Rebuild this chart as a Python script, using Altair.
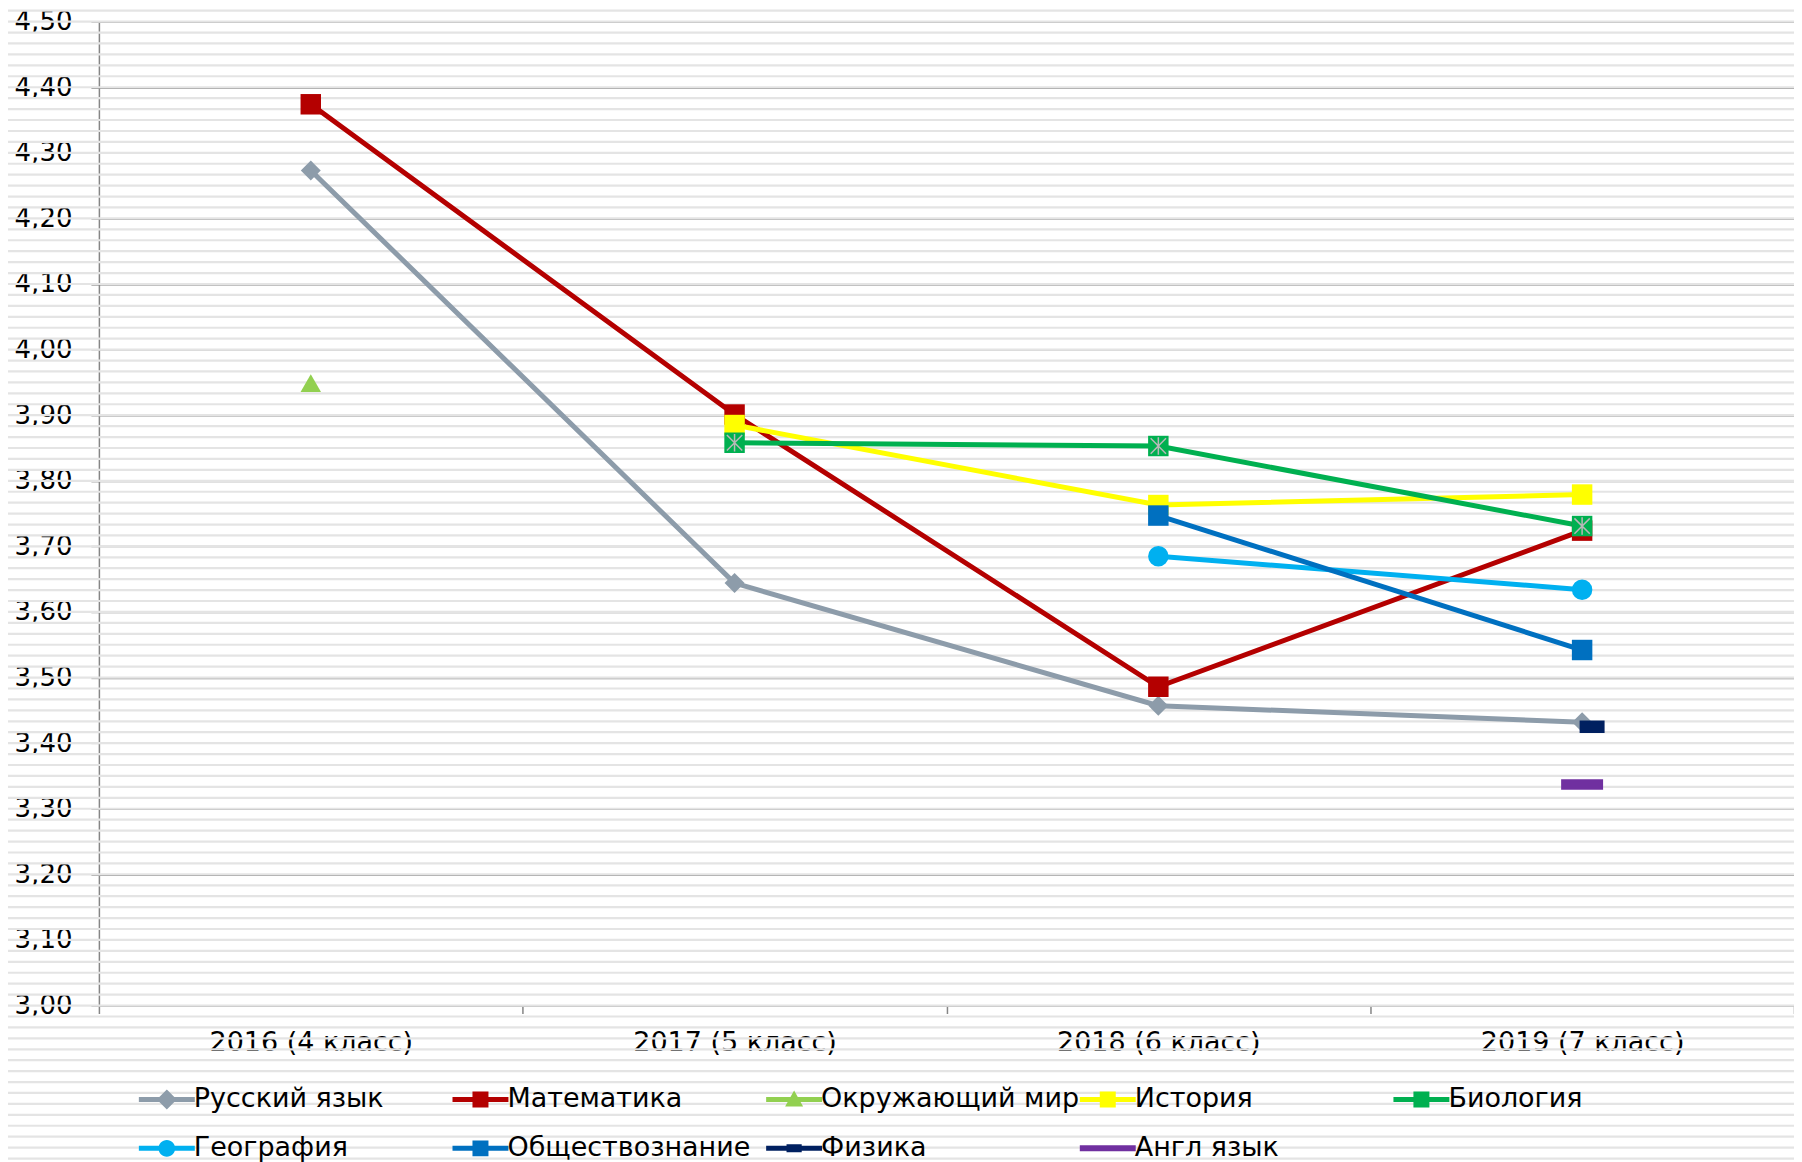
import altair as alt
import pandas as pd
import numpy as np

categories = ["2016 (4 класс)", "2017 (5 класс)", "2018 (6 класс)", "2019 (7 класс)"]
series_names = ["Русский язык", "Математика", "Окружающий мир", "История", "Биология",
                "География", "Обществознание", "Физика", "Англ язык"]
russian = [4.273, 3.644, 3.457, 3.432]
math = [4.374, 3.901, 3.486, 3.724]
world = [3.949, None, None, None]
history = [None, 3.885, 3.763, 3.779]
biology = [None, 3.858, 3.853, 3.731]
geography = [None, None, 3.685, 3.634]
social = [None, None, 3.747, 3.542]
physics = [None, None, None, 3.425]
english = [None, None, None, 3.337]
colors = ["#8D9CAA", "#B40000", "#92D050", "#FFFF00", "#00B050",
          "#00B0F0", "#0070C0", "#002060", "#7030A0"]
y_ticks = [3.0, 3.1, 3.2, 3.3, 3.4, 3.5, 3.6, 3.7, 3.8, 3.9, 4.0, 4.1, 4.2, 4.3, 4.4, 4.5]

all_series = [russian, math, world, history, biology, geography, social, physics, english]
rows = []
for name, vals in zip(series_names, all_series):
    for cat, v in zip(categories, vals):
        if v is not None:
            rows.append({"cat": cat, "series": name, "value": v,
                         "order": series_names.index(name)})
df = pd.DataFrame(rows)

# decorative background stripes (6 per 0.1)
stripes = pd.DataFrame({"s": np.round(np.arange(2.60, 4.56, 0.1 / 6), 4)})

W, H = 1697, 985
FONT = "DejaVu Sans"

xenc = alt.X("cat:N", sort=categories,
             scale=alt.Scale(domain=categories, paddingInner=0, paddingOuter=0),
             axis=alt.Axis(title=None, labelAngle=0, labelFontSize=27, labelFont=FONT,
                           labelColor="#000000", tickBand="extent", tickSize=8,
                           tickColor="#868686", tickWidth=1.5, domainColor="#868686",
                           domainWidth=1.5, labelPadding=16, grid=False, labelLimit=0))
yscale = alt.Scale(domain=[3.0, 4.5], nice=False, zero=False)
yenc = alt.Y("value:Q", scale=yscale,
             axis=alt.Axis(title=None, values=y_ticks,
                           labelExpr="replace(format(datum.value, '.2f'), '.', ',')",
                           labelFontSize=26, labelFont=FONT, labelColor="#000000",
                           tickSize=8, tickColor="#868686", tickWidth=1.5,
                           domainColor="#868686", domainWidth=1.5, labelPadding=19,
                           grid=True, gridColor="#868686", gridWidth=1.5))
cscale = alt.Scale(domain=series_names, range=colors)

stripe_layer = alt.Chart(stripes).mark_rule(color="#e4e4e4", strokeWidth=2.2, clip=False).encode(
    y=alt.Y("s:Q", scale=yscale),
    x=alt.value(-100), x2=alt.value(W + 10))

base = alt.Chart(df)

lines = base.mark_line(strokeWidth=5).encode(
    x=xenc, y=yenc,
    color=alt.Color("series:N", scale=cscale, legend=None),
    detail="series:N", order="order:Q")


def pts(names, shape, size, **kw):
    return base.transform_filter(
        alt.FieldOneOfPredicate(field="series", oneOf=names)
    ).mark_point(filled=True, shape=shape, size=size, opacity=1, **kw).encode(
        x=xenc, y=yenc,
        color=alt.Color("series:N", scale=cscale, legend=None),
        order="order:Q")


p_diamond = pts(["Русский язык"], "diamond", 400)
p_square = pts(["Математика", "История", "Обществознание", "Биология"], "square", 420)
p_tri = pts(["Окружающий мир"], "triangle-up", 420)
p_circle = pts(["География"], "circle", 420)
p_phys = pts(["Физика"], "M-1,-0.5H1V0.5H-1Z", 625, xOffset=10)
p_eng = pts(["Англ язык"], "M-1,-0.25H1V0.25H-1Z", 1764)
p_star = base.transform_filter(alt.datum.series == "Биология").mark_point(
    shape="M-0.75,-0.75L0.75,0.75M-0.75,0.75L0.75,-0.75M0,-0.85L0,0.85",
    size=420, filled=False, color="#B8B8B8", strokeWidth=1.5, opacity=1).encode(x=xenc, y=yenc)

# legend symbols (unit = 20px): line + marker
LINE = "M-1.45,-0.125H1.35V0.125H-1.45Z"
SQ = "M-0.45,-0.4H0.35V0.4H-0.45Z"
legend_paths = [
    LINE + "M-0.05,-0.5L0.45,0L-0.05,0.5L-0.55,0Z",
    LINE + SQ,
    LINE + "M-0.05,-0.45L0.4,0.35L-0.5,0.35Z",
    LINE + SQ,
    LINE + SQ,
    LINE + "M-0.47,0A0.42,0.42 0 1,1 0.37,0A0.42,0.42 0 1,1 -0.47,0Z",
    LINE + SQ,
    LINE + "M-0.43,-0.2H0.33V0.2H-0.43Z",
    "M-1.45,-0.15H1.35V0.15H-1.45Z",
]

legend_layer = base.mark_point(filled=True, size=0, opacity=1).encode(
    x=xenc, y=yenc,
    color=alt.Color("series:N", scale=cscale,
                    legend=alt.Legend(title=None, orient="none", legendX=49, legendY=1059,
                                      direction="horizontal", columns=5, gridAlign="all",
                                      symbolSize=1600, symbolOpacity=1, symbolStrokeWidth=0,
                                      labelFontSize=27, labelFont=FONT, labelColor="#000000",
                                      labelOffset=6, columnPadding=0, rowPadding=16,
                                      padding=0, labelLimit=400)),
    shape=alt.Shape("series:N", scale=alt.Scale(domain=series_names, range=legend_paths)))

chart = alt.layer(stripe_layer, legend_layer, lines, p_diamond, p_square, p_tri, p_circle,
                  p_phys, p_eng, p_star).properties(
    width=W, height=H,
    autosize=alt.AutoSizeParams(type="none"),
    padding={"left": 91, "top": 13, "right": 0, "bottom": 156},
    background="#ffffff",
).configure_view(stroke=None)

chart.save("out.html", embed_options={"renderer": "svg", "actions": False})
